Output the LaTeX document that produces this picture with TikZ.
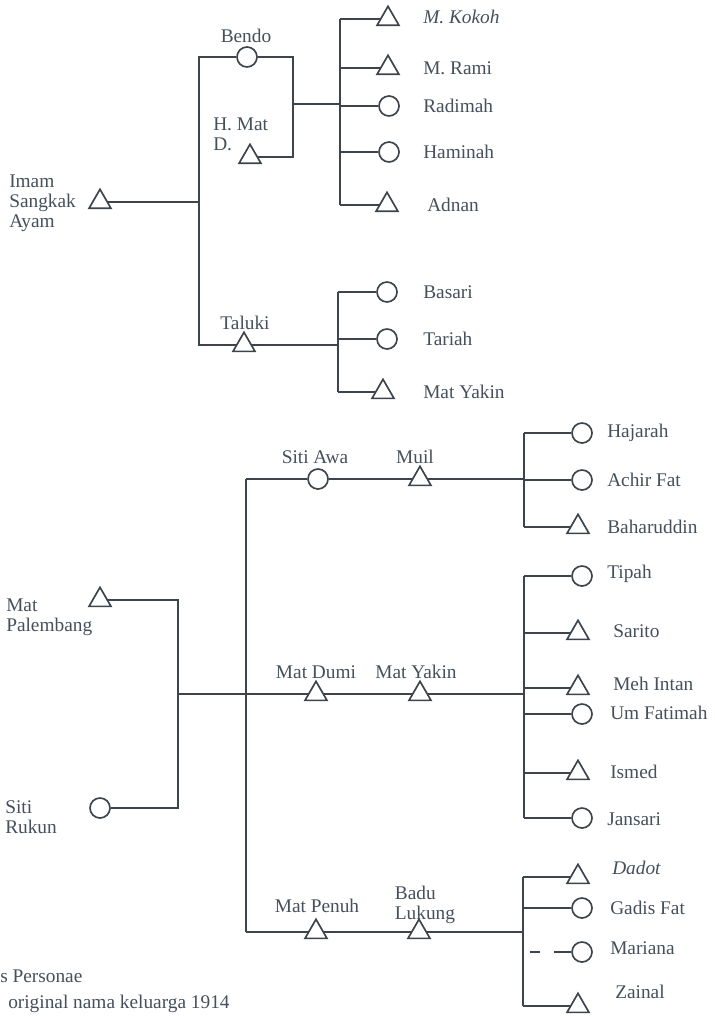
\documentclass[tikz,border=0pt]{standalone}
\usepackage{fontspec}
\setmainfont{Liberation Serif}
\usetikzlibrary{shapes.geometric}
\definecolor{ink}{RGB}{62,68,76}
\definecolor{txt}{RGB}{70,80,92}
\tikzset{
  male/.style={regular polygon, regular polygon sides=3, draw=ink, line width=1.25pt, fill=white, minimum size=19pt, inner sep=0pt},
  female/.style={circle, draw=ink, line width=1.25pt, fill=white, minimum size=15pt, inner sep=0pt},
  lbl/.style={text=txt, font=\fontsize{14.5pt}{15pt}\selectfont, inner sep=0pt, align=left},
  link/.style={draw=ink, line width=1.15pt},
}
\begin{document}
\begin{tikzpicture}[x=0.75pt,y=-0.75pt]
\useasboundingbox (0,0) rectangle (714,1016);
\clip (0,0) rectangle (714,1016);
\fill[white] (0,0) rectangle (714,1016);

% ---------- upper tree ----------
\node[male] (imam) at (100,202) {};
\node[lbl, anchor=west] (limam) at (9,203) {Imam\\Sangkak\\Ayam};
\node[female] (bendo) at (247,57) {};
\node[lbl] (lbendo) at (246,36) {Bendo};
\node[male] (hmat) at (250,157) {};
\node[lbl, anchor=west] (lhmat) at (213,134) {H. Mat\\D.};
\node[male] (taluki) at (244,345) {};
\node[lbl] (ltaluki) at (245,323) {Taluki};

\coordinate (a1) at (199,57);
\coordinate (a2) at (199,345);
\coordinate (a3) at (199,202);
\coordinate (b1) at (293,57);
\coordinate (b2) at (293,157);
\coordinate (b3) at (293,104);
\coordinate (c0) at (340,104);
\coordinate (c1) at (340,19);
\coordinate (c2) at (340,68);
\coordinate (c3) at (340,106);
\coordinate (c4) at (340,152);
\coordinate (c5) at (340,205);

\node[male] (kokoh) at (388,19) {};
\node[male] (rami) at (388,68) {};
\node[female] (radimah) at (389,106) {};
\node[female] (haminah) at (389,152) {};
\node[male] (adnan) at (387,205) {};
\node[lbl, anchor=west] (lkokoh) at (423,17) {\itshape M. Kokoh};
\node[lbl, anchor=west] (lrami) at (423,68) {M. Rami};
\node[lbl, anchor=west] (lradimah) at (423,106) {Radimah};
\node[lbl, anchor=west] (lhaminah) at (423,152) {Haminah};
\node[lbl, anchor=west] (ladnan) at (427,205) {Adnan};

\draw[link] (bendo) -- (a1) -- (a2) -- (taluki);
\draw[link] (imam) -- (a3);
\draw[link] (bendo) -- (b1) -- (b2) -- (hmat);
\draw[link] (b3) -- (c0);
\draw[link] (c1) -- (c5);
\draw[link] (c1) -- (kokoh);
\draw[link] (c2) -- (rami);
\draw[link] (c3) -- (radimah);
\draw[link] (c4) -- (haminah);
\draw[link] (c5) -- (adnan);

\coordinate (d0) at (338,345);
\coordinate (d1) at (338,292);
\coordinate (d2) at (338,339);
\coordinate (d3) at (338,392);
\node[female] (basari) at (387,292) {};
\node[female] (tariah) at (387,339) {};
\node[male] (myakin1) at (383,392) {};
\node[lbl, anchor=west] (lbasari) at (423,292) {Basari};
\node[lbl, anchor=west] (ltariah) at (423,339) {Tariah};
\node[lbl, anchor=west] (lmyakin1) at (423,392) {Mat Yakin};
\draw[link] (taluki) -- (d0);
\draw[link] (d1) -- (d3);
\draw[link] (d1) -- (basari);
\draw[link] (d2) -- (tariah);
\draw[link] (d3) -- (myakin1);

% ---------- lower tree ----------
\node[male] (palembang) at (100,600) {};
\node[lbl, anchor=west] (lpalembang) at (6,617) {Mat\\Palembang};
\node[female] (rukun) at (100,808) {};
\node[lbl, anchor=west] (lrukun) at (5,817) {Siti\\Rukun};

\coordinate (e1) at (178,600);
\coordinate (e2) at (178,808);
\coordinate (e3) at (178,694);
\coordinate (f1) at (246,479);
\coordinate (f2) at (246,932);

\node[female] (sitiawa) at (318,479) {};
\node[male] (muil) at (420,479) {};
\node[lbl] (lsitiawa) at (315,457) {Siti Awa};
\node[lbl] (lmuil) at (415,457) {Muil};
\node[male] (matdumi) at (316,694) {};
\node[male] (matyakin2) at (420,694) {};
\node[lbl] (lmatdumi) at (316,672) {Mat Dumi};
\node[lbl] (lmatyakin2) at (416,672) {Mat Yakin};
\node[male] (matpenuh) at (316,932) {};
\node[male] (badu) at (419,932) {};
\node[lbl] (lmatpenuh) at (317,906) {Mat Penuh};
\node[lbl] (lbadu) at (425,905) {Badu\\Lukung};

\draw[link] (palembang) -- (e1) -- (e2) -- (rukun);
\draw[link] (f1) -- (f2);
\draw[link] (e3) -- (matdumi);
\draw[link] (f1) -- (sitiawa);
\draw[link] (f2) -- (matpenuh);
\draw[link] (sitiawa) -- (muil);
\draw[link] (matdumi) -- (matyakin2);
\draw[link] (matpenuh) -- (badu);

% children of Muil
\coordinate (g0) at (524,479);
\coordinate (g1) at (524,433);
\coordinate (g2) at (524,480);
\coordinate (g3) at (524,527);
\node[female] (hajarah) at (582,433) {};
\node[female] (achir) at (582,480) {};
\node[male] (baharuddin) at (578,527) {};
\node[lbl, anchor=west] (lhajarah) at (607,433) {Hajarah};
\node[lbl, anchor=west] (lachir) at (607,480) {Achir Fat};
\node[lbl, anchor=west] (lbaharuddin) at (607,527) {Baharuddin};
\draw[link] (muil) -- (g0);
\draw[link] (g1) -- (g3);
\draw[link] (g1) -- (hajarah);
\draw[link] (g2) -- (achir);
\draw[link] (g3) -- (baharuddin);

% children of Mat Yakin
\coordinate (h0) at (524,694);
\coordinate (h1) at (524,576);
\coordinate (h2) at (524,633);
\coordinate (h3) at (524,688);
\coordinate (h4) at (524,714);
\coordinate (h5) at (524,773);
\coordinate (h6) at (524,818);
\node[female] (tipah) at (582,576) {};
\node[male] (sarito) at (578,633) {};
\node[male] (mehintan) at (578,688) {};
\node[female] (umfatimah) at (582,714) {};
\node[male] (ismed) at (578,773) {};
\node[female] (jansari) at (582,818) {};
\node[lbl, anchor=west] (ltipah) at (607,574) {Tipah};
\node[lbl, anchor=west] (lsarito) at (613,631) {Sarito};
\node[lbl, anchor=west] (lmehintan) at (613,684) {Meh Intan};
\node[lbl, anchor=west] (lumfatimah) at (610,713) {Um Fatimah};
\node[lbl, anchor=west] (lismed) at (610,772) {Ismed};
\node[lbl, anchor=west] (ljansari) at (607,819) {Jansari};
\draw[link] (matyakin2) -- (h0);
\draw[link] (h1) -- (h6);
\draw[link] (h1) -- (tipah);
\draw[link] (h2) -- (sarito);
\draw[link] (h3) -- (mehintan);
\draw[link] (h4) -- (umfatimah);
\draw[link] (h5) -- (ismed);
\draw[link] (h6) -- (jansari);

% children of Badu Lukung
\coordinate (k0) at (523,932);
\coordinate (k1) at (523,877);
\coordinate (k2) at (523,908);
\coordinate (k3) at (523,952);
\coordinate (k4) at (523,1006);
\node[male] (dadot) at (578,877) {};
\node[female] (gadis) at (582,908) {};
\node[female] (mariana) at (582,952) {};
\node[male] (zainal) at (578,1006) {};
\node[lbl, anchor=west] (ldadot) at (612,868) {\itshape Dadot};
\node[lbl, anchor=west] (lgadis) at (610,908) {Gadis Fat};
\node[lbl, anchor=west] (lmariana) at (610,948) {Mariana};
\node[lbl, anchor=west] (lzainal) at (615,992) {Zainal};
\draw[link] (badu) -- (k0);
\draw[link] (k1) -- (k4);
\draw[link] (k1) -- (dadot);
\draw[link] (k2) -- (gadis);
\draw[link, dash pattern=on 0pt off 5pt on 7.5pt off 11pt on 60pt] (k3) -- (mariana);
\draw[link] (k4) -- (zainal);

% caption fragments
\node[lbl, anchor=west] (cap1) at (0,976) {s Personae};
\node[lbl, anchor=west] (cap2) at (8,1004) {original nama keluarga 1914};
\end{tikzpicture}
\end{document}
